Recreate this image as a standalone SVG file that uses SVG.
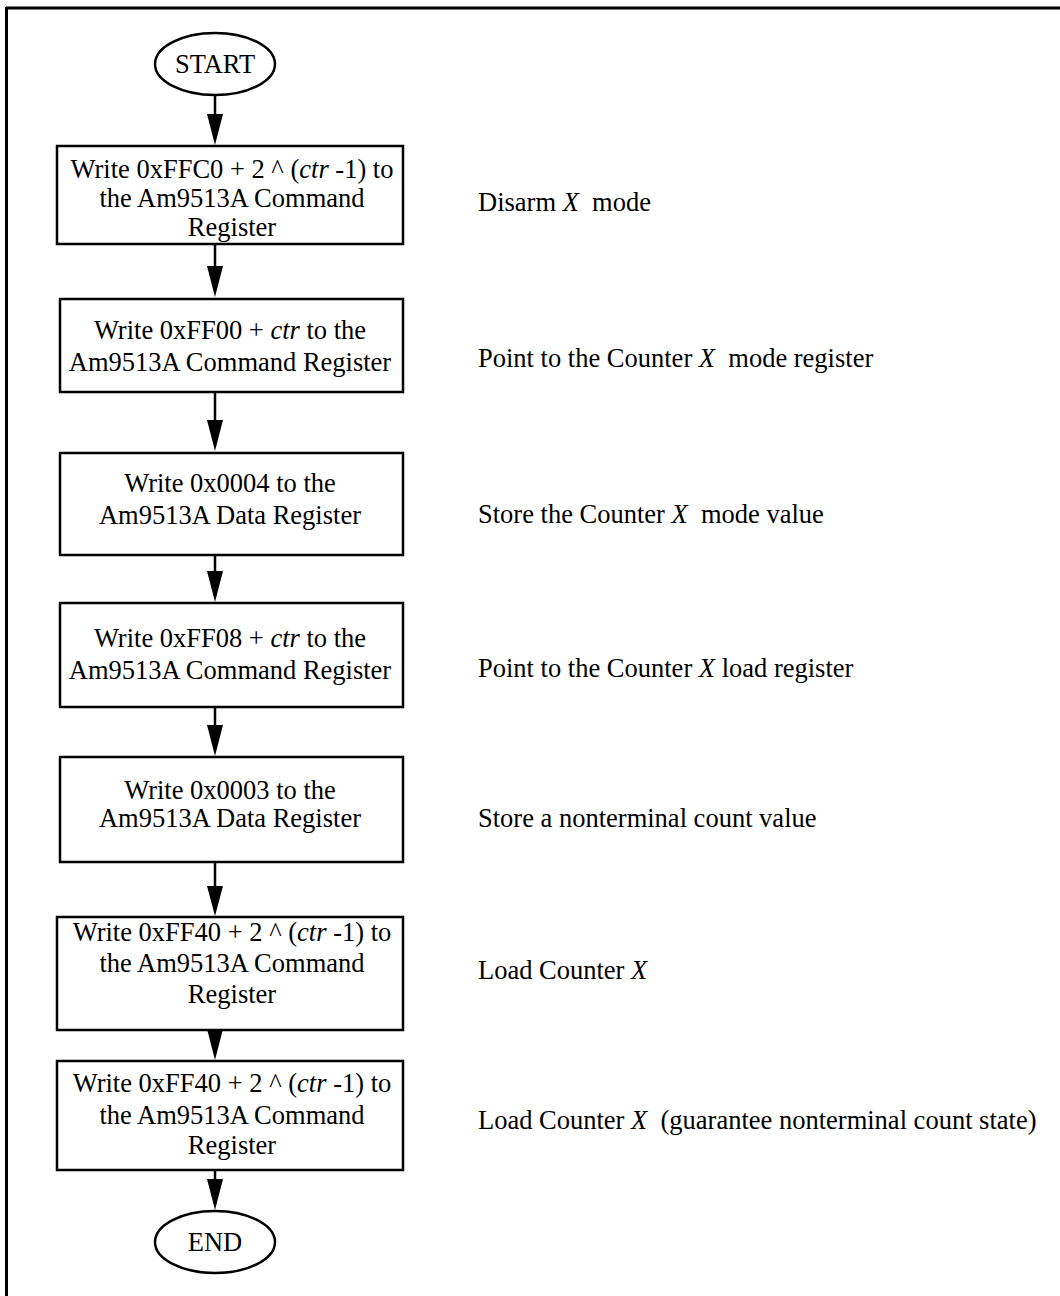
<svg xmlns="http://www.w3.org/2000/svg" width="1060" height="1296" viewBox="0 0 1060 1296">
<style>
text{font-family:"Liberation Serif","Times New Roman",serif;font-size:26.5px;fill:#000;white-space:pre}
.c{text-anchor:middle}
.box{fill:#fff;stroke:#000;stroke-width:2.5}
.edge{stroke:#000;stroke-width:2.5;fill:none}
.ah{fill:#000;stroke:none}
</style>
<rect width="1060" height="1296" fill="#fff"/>
<g id="frame">
<line x1="6" y1="8" x2="1060" y2="8" stroke="#000" stroke-width="3"/>
<line x1="6.5" y1="7" x2="6.5" y2="1296" stroke="#000" stroke-width="3"/>
</g>
<g id="connectors">
<line class="edge" x1="215" y1="96" x2="215" y2="116"/><polygon class="ah" points="207,114 223,114 215,145"/>
<line class="edge" x1="215" y1="244" x2="215" y2="268"/><polygon class="ah" points="207,266 223,266 215,297"/>
<line class="edge" x1="215" y1="392" x2="215" y2="422"/><polygon class="ah" points="207,420 223,420 215,451"/>
<line class="edge" x1="215" y1="555" x2="215" y2="573"/><polygon class="ah" points="207,571 223,571 215,602"/>
<line class="edge" x1="215" y1="707" x2="215" y2="727"/><polygon class="ah" points="207,725 223,725 215,756"/>
<line class="edge" x1="215" y1="862" x2="215" y2="888"/><polygon class="ah" points="207,886 223,886 215,916"/>
<line class="edge" x1="215" y1="1030" x2="215" y2="1031"/><polygon class="ah" points="207,1029 223,1029 215,1060"/>
<line class="edge" x1="215" y1="1170" x2="215" y2="1181"/><polygon class="ah" points="207,1179 223,1179 215,1210"/>
</g>
<g id="start">
<ellipse class="box" cx="215" cy="64" rx="60" ry="31"/>
<text class="c" x="215" y="73">START</text>
</g>
<g id="step1">
<rect class="box" x="57" y="146" width="346" height="98"/>
<text class="c" x="232" y="178">Write 0xFFC0 + 2 ^ (<tspan font-style="italic">ctr</tspan> -1) to</text>
<text class="c" x="232" y="207">the Am9513A Command</text>
<text class="c" x="232" y="236">Register</text>
</g>
<g id="step2">
<rect class="box" x="60" y="299" width="343" height="93"/>
<text class="c" x="230" y="339">Write 0xFF00 + <tspan font-style="italic">ctr</tspan> to the</text>
<text class="c" x="230" y="371">Am9513A Command Register</text>
</g>
<g id="step3">
<rect class="box" x="60" y="453" width="343" height="102"/>
<text class="c" x="230" y="492">Write 0x0004 to the</text>
<text class="c" x="230" y="524">Am9513A Data Register</text>
</g>
<g id="step4">
<rect class="box" x="60" y="603" width="343" height="104"/>
<text class="c" x="230" y="647">Write 0xFF08 + <tspan font-style="italic">ctr</tspan> to the</text>
<text class="c" x="230" y="679">Am9513A Command Register</text>
</g>
<g id="step5">
<rect class="box" x="60" y="757" width="343" height="105"/>
<text class="c" x="230" y="799">Write 0x0003 to the</text>
<text class="c" x="230" y="827">Am9513A Data Register</text>
</g>
<g id="step6">
<rect class="box" x="57" y="917" width="346" height="113"/>
<text class="c" x="232" y="941">Write 0xFF40 + 2 ^ (<tspan font-style="italic">ctr</tspan> -1) to</text>
<text class="c" x="232" y="972">the Am9513A Command</text>
<text class="c" x="232" y="1003">Register</text>
</g>
<g id="step7">
<rect class="box" x="57" y="1061" width="346" height="109"/>
<text class="c" x="232" y="1092">Write 0xFF40 + 2 ^ (<tspan font-style="italic">ctr</tspan> -1) to</text>
<text class="c" x="232" y="1124">the Am9513A Command</text>
<text class="c" x="232" y="1154">Register</text>
</g>
<g id="end">
<ellipse class="box" cx="215" cy="1242" rx="60" ry="31"/>
<text class="c" x="215" y="1251">END</text>
</g>
<g id="labels">
<text x="478" y="211">Disarm <tspan font-style="italic">X</tspan>  mode</text>
<text x="478" y="367">Point to the Counter <tspan font-style="italic">X</tspan>  mode register</text>
<text x="478" y="523">Store the Counter <tspan font-style="italic">X</tspan>  mode value</text>
<text x="478" y="677">Point to the Counter <tspan font-style="italic">X</tspan> load register</text>
<text x="478" y="827">Store a nonterminal count value</text>
<text x="478" y="979">Load Counter <tspan font-style="italic">X</tspan></text>
<text x="478" y="1129">Load Counter <tspan font-style="italic">X</tspan>  (guarantee nonterminal count state)</text>
</g>
</svg>
